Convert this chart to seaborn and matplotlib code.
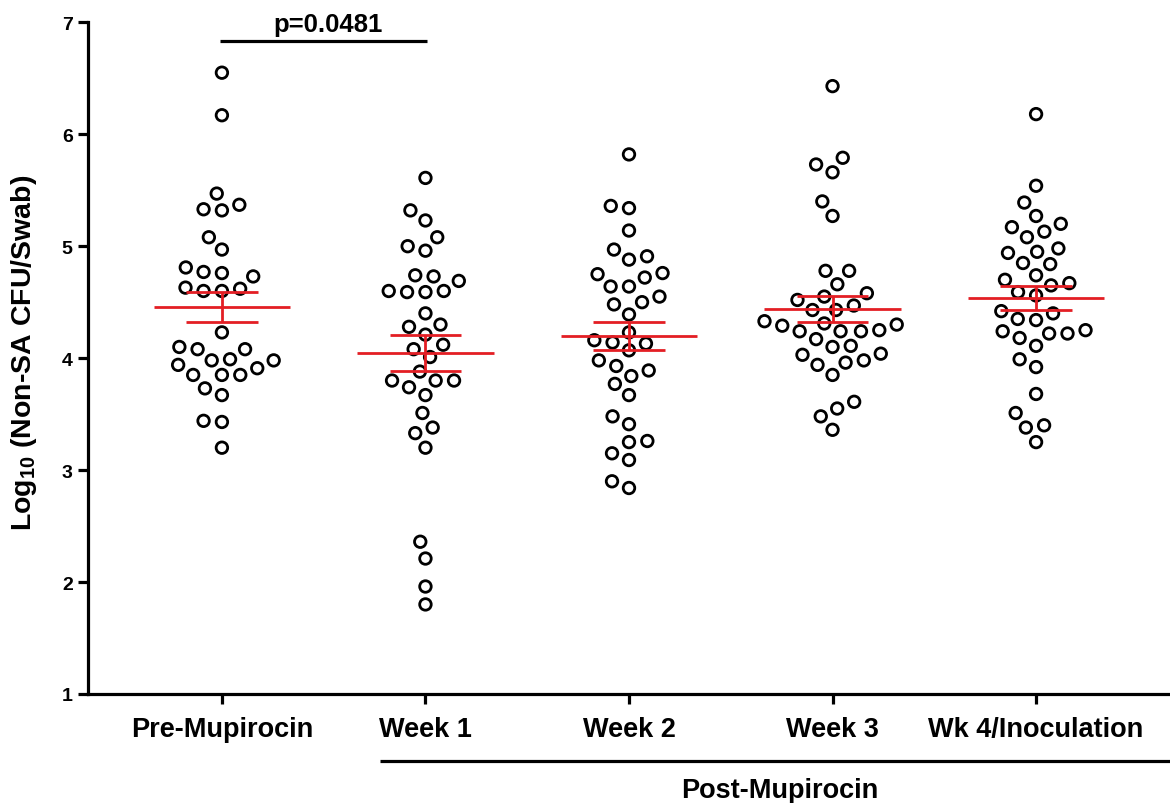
import numpy as np
import pandas as pd
import matplotlib
matplotlib.use("Agg")
import matplotlib.pyplot as plt
import seaborn as sns
from matplotlib.transforms import blended_transform_factory

# ---------------- data ----------------
categories = ["Pre-Mupirocin", "Week 1", "Week 2", "Week 3", "Wk 4/Inoculation"]

pre_mupirocin = [6.55, 6.17, 5.47, 5.33, 5.32, 5.37, 5.08, 4.97, 4.81, 4.73, 4.77,
                 4.76, 4.62, 4.60, 4.60, 4.63, 4.23, 4.08, 4.08, 4.10, 3.98, 3.99,
                 3.98, 3.91, 3.94, 3.85, 3.85, 3.85, 3.73, 3.67, 3.44, 3.43, 3.20]
week1 = [5.61, 5.32, 5.23, 5.08, 4.96, 5.00, 4.74, 4.73, 4.69, 4.60, 4.59, 4.59,
         4.60, 4.40, 4.30, 4.28, 4.21, 4.12, 4.08, 4.01, 3.88, 3.80, 3.80, 3.80,
         3.74, 3.67, 3.51, 3.33, 3.38, 3.20, 2.36, 2.21, 1.96, 1.80]
week2 = [5.82, 5.34, 5.36, 5.14, 4.97, 4.88, 4.91, 4.75, 4.72, 4.76, 4.64, 4.64,
         4.55, 4.48, 4.50, 4.39, 4.23, 4.14, 4.13, 4.16, 4.07, 3.98, 3.93, 3.89,
         3.84, 3.77, 3.67, 3.48, 3.41, 3.25, 3.26, 3.15, 3.09, 2.84, 2.90]
week3 = [6.43, 5.73, 5.66, 5.79, 5.40, 5.27, 4.78, 4.78, 4.66, 4.58, 4.52, 4.55,
         4.47, 4.43, 4.43, 4.31, 4.29, 4.30, 4.33, 4.24, 4.24, 4.24, 4.25, 4.17,
         4.11, 4.10, 4.04, 4.03, 3.96, 3.94, 3.98, 3.85, 3.61, 3.55, 3.48, 3.36]
week4 = [6.18, 5.54, 5.39, 5.27, 5.20, 5.17, 5.13, 5.08, 4.98, 4.94, 4.95, 4.84,
         4.85, 4.74, 4.70, 4.67, 4.65, 4.59, 4.56, 4.42, 4.40, 4.35, 4.34, 4.24,
         4.22, 4.18, 4.22, 4.25, 4.11, 3.99, 3.92, 3.68, 3.51, 3.38, 3.40, 3.25]

groups = [pre_mupirocin, week1, week2, week3, week4]

p_text = "p=0.0481"
post_label = "Post-Mupirocin"
y_label = r"Log$_{10}$ (Non-SA CFU/Swab)"
y_ticks = [1, 2, 3, 4, 5, 6, 7]

# ---------------- style ----------------
sns.set_theme(style="ticks")
plt.rcParams["font.family"] = ["Liberation Sans", "DejaVu Sans"]
plt.rcParams["font.weight"] = "bold"
plt.rcParams["mathtext.fontset"] = "custom"
plt.rcParams["mathtext.rm"] = "Liberation Sans:bold"
plt.rcParams["mathtext.it"] = "Liberation Sans:bold"
plt.rcParams["mathtext.bf"] = "Liberation Sans:bold"
for key in ("text.color", "axes.labelcolor", "xtick.color", "ytick.color",
            "axes.edgecolor"):
    plt.rcParams[key] = "black"

RED = "#e31e24"
LW = 2.3

df = pd.DataFrame({
    "group": np.concatenate([[c] * len(g) for c, g in zip(categories, groups)]),
    "value": np.concatenate(groups),
})

fig = plt.figure(figsize=(11.7, 8.04), dpi=100)
ax = fig.add_axes([0.0752, 0.1356, 0.9248, 0.8354])

sns.swarmplot(data=df, x="group", y="value", order=categories, ax=ax,
              size=10.8, color="white", edgecolor="black", linewidth=1.8,
              zorder=2)
ax.set_xlim(-0.658, 4.658)
ax.set_ylim(1, 7)

# compute swarm layout with wider spacing, then freeze it and shrink markers
fig.canvas.draw()
for coll in ax.collections:
    if "draw" in coll.__dict__:
        del coll.draw
    coll.set_sizes([8.3 ** 2])
    coll.set_facecolor("none")
    coll.set_edgecolor("black")
    coll.set_linewidth(2.0)

# mean +/- SEM
for i, vals in enumerate(groups):
    v = np.asarray(vals)
    m = v.mean()
    se = v.std(ddof=1) / np.sqrt(len(v))
    ax.hlines(m, i - 0.335, i + 0.335, color=RED, lw=2.0, zorder=5)
    ax.hlines([m - se, m + se], i - 0.175, i + 0.175, color=RED, lw=2.0, zorder=5)
    ax.vlines(i, m - se, m + se, color=RED, lw=2.0, zorder=5)

ax.set_xlim(-0.658, 4.658)
ax.set_ylim(1, 7)
ax.set_yticks(y_ticks)
ax.set_xlabel("")
ax.set_ylabel(y_label, fontsize=20.5, fontweight="bold", color="black")
ax.yaxis.set_label_coords(-0.045, 0.51)

sns.despine(ax=ax)
for s in ("left", "bottom"):
    ax.spines[s].set_linewidth(LW)
    ax.spines[s].set_color("black")
ax.tick_params(axis="both", width=LW, length=7, color="black", labelcolor="black")
ax.tick_params(axis="x", labelsize=19.5, pad=9)
ax.tick_params(axis="y", labelsize=14, pad=4)
for lab in ax.get_xticklabels() + ax.get_yticklabels():
    lab.set_fontweight("bold")

# Post-Mupirocin bracket
trans = blended_transform_factory(ax.transData, ax.transAxes)
ax.plot([0.776, 4.658], [-0.0997, -0.0997], transform=trans, clip_on=False,
        color="black", lw=LW, solid_capstyle="butt")
ax.text(2.74, -0.143, post_label, transform=trans, ha="center", va="center",
        fontsize=19.5, fontweight="bold", color="black")

# p-value bracket
ax.plot([-0.01, 1.01], [6.836, 6.836], color="black", lw=LW, clip_on=False,
        solid_capstyle="butt")
ax.text(0.52, 6.92, p_text, ha="center", va="baseline", fontsize=18.5,
        fontweight="bold", clip_on=False, color="black")

fig.savefig("out.png", dpi=100)
